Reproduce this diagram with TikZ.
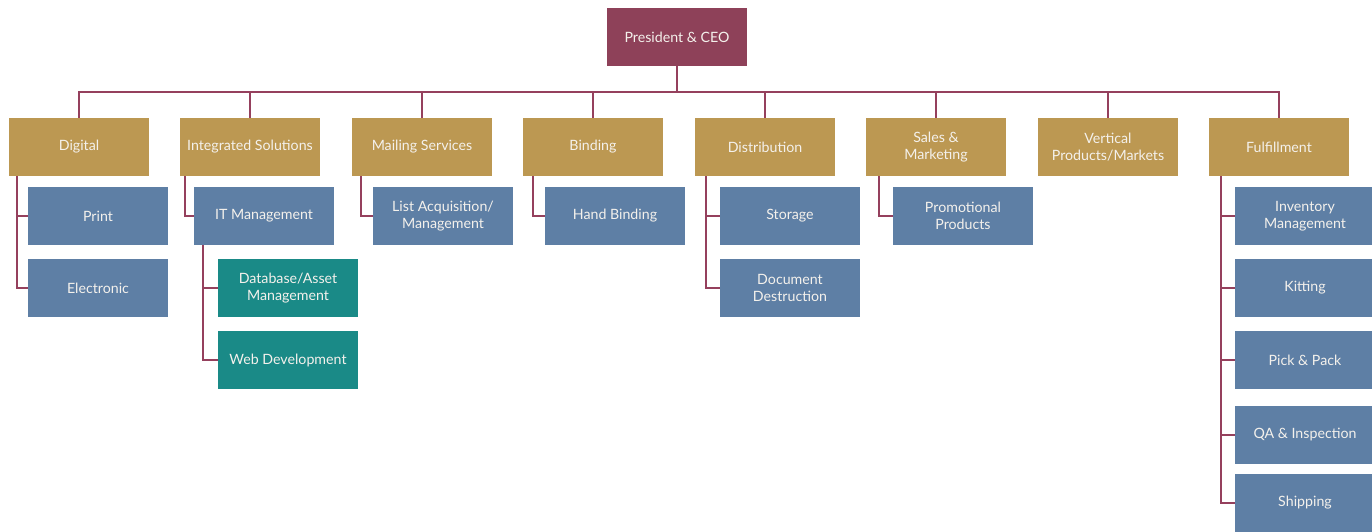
\documentclass[tikz,border=0pt]{standalone}
\usepackage{fontspec}
\setmainfont{Lato}
\usepackage{xcolor}
\usetikzlibrary{positioning,calc}

\definecolor{ceofill}{HTML}{8E4159}
\definecolor{deptfill}{HTML}{BC9852}
\definecolor{unitfill}{HTML}{5E7FA5}
\definecolor{subfill}{HTML}{1A8A87}
\definecolor{linkcol}{HTML}{95405D}
\definecolor{txtcol}{HTML}{F4F1EC}

\begin{document}
\begin{tikzpicture}[
            x=1pt,y=-1pt,
            box/.style={inner sep=0pt,minimum width=140pt,minimum height=58pt,align=center,text=txtcol,
                font=\fontsize{14.2}{17}\selectfont},
            ceobox/.style={box,fill=ceofill},
            dept/.style={box,fill=deptfill},
            unit/.style={box,fill=unitfill},
            subunit/.style={box,fill=subfill},
            link/.style={draw=linkcol,line width=1.6pt}
        ]
            \useasboundingbox (0,0) rectangle (1372,532);
            % top
            \node[ceobox] (ceo) at (677,37) {President \& CEO};
            \coordinate (bus) at (677,92);
            % departments
            \node[dept] (digital) at (79,147) {Digital};
            \node[dept] (integrated) at (250,147) {Integrated Solutions};
            \node[dept] (mailing) at (422,147) {Mailing Services};
            \node[dept] (binding) at (593,147) {Binding};
            \node[dept] (distribution) at (765,147) {Distribution};
            \node[dept] (sales) at (936,147) {Sales \&\\Marketing};
            \node[dept] (vertical) at (1108,147) {Vertical\\Products/Markets};
            \node[dept] (fulfillment) at (1279,147) {Fulfillment};
            % units
            \node[unit] (print) at (98,216) {Print};
            \node[unit] (electronic) at (98,288) {Electronic};
            \node[unit] (itmgmt) at (264,216) {IT Management};
            \node[subunit] (database) at (288,288) {Database/Asset\\Management};
            \node[subunit] (webdev) at (288,360) {Web Development};
            \node[unit] (listacq) at (443,216) {List Acquisition/\\Management};
            \node[unit] (handbinding) at (615,216) {Hand Binding};
            \node[unit] (storage) at (790,216) {Storage};
            \node[unit] (docdestr) at (790,288) {Document\\Destruction};
            \node[unit] (promo) at (963,216) {Promotional\\Products};
            \node[unit] (inventory) at (1305,216) {Inventory\\Management};
            \node[unit] (kitting) at (1305,288) {Kitting};
            \node[unit] (pickpack) at (1305,360) {Pick \& Pack};
            \node[unit] (qa) at (1305,435) {QA \& Inspection};
            \node[unit] (shipping) at (1305,503) {Shipping};
            % bus
            \draw[link] (ceo.south) -- (bus);
            \draw[link] (digital.north) |- (bus) -| (fulfillment.north);
            \draw[link] (integrated.north) -- (integrated.north |- bus);
            \draw[link] (mailing.north) -- (mailing.north |- bus);
            \draw[link] (binding.north) -- (binding.north |- bus);
            \draw[link] (distribution.north) -- (distribution.north |- bus);
            \draw[link] (sales.north) -- (sales.north |- bus);
            \draw[link] (vertical.north) -- (vertical.north |- bus);
            % branches
            \draw[link] ([xshift=8pt]digital.south west) |- (electronic.west);
            \draw[link] ([xshift=8pt]digital.south west |- print.west) -- (print.west);
            \draw[link] ([xshift=5pt]integrated.south west) |- (itmgmt.west);
            \draw[link] ([xshift=9pt]itmgmt.south west) |- (webdev.west);
            \draw[link] ([xshift=9pt]itmgmt.south west |- database.west) -- (database.west);
            \draw[link] ([xshift=9pt]mailing.south west) |- (listacq.west);
            \draw[link] ([xshift=10pt]binding.south west) |- (handbinding.west);
            \draw[link] ([xshift=11pt]distribution.south west) |- (docdestr.west);
            \draw[link] ([xshift=11pt]distribution.south west |- storage.west) -- (storage.west);
            \draw[link] ([xshift=13pt]sales.south west) |- (promo.west);
            \draw[link] ([xshift=12pt]fulfillment.south west) |- (shipping.west);
            \draw[link] ([xshift=12pt]fulfillment.south west |- inventory.west) -- (inventory.west);
            \draw[link] ([xshift=12pt]fulfillment.south west |- kitting.west) -- (kitting.west);
            \draw[link] ([xshift=12pt]fulfillment.south west |- pickpack.west) -- (pickpack.west);
            \draw[link] ([xshift=12pt]fulfillment.south west |- qa.west) -- (qa.west);
        \end{tikzpicture}
\end{document}
